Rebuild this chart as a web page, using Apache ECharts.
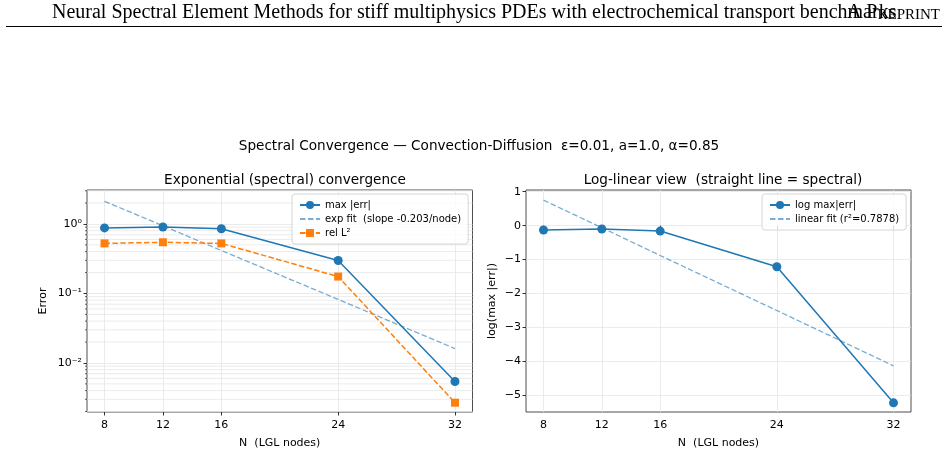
<!DOCTYPE html>
<html>
<head>
<meta charset="utf-8">
<script src="https://cdn.jsdelivr.net/npm/echarts@6/dist/echarts.min.js"></script>
<style>
  html, body { margin: 0; padding: 0; background: #fff; }
  #chart { width: 948px; height: 471px; }
</style>
</head>
<body>
<div id="chart"></div>
<script>
// N (LGL nodes)
var nodes = [8, 12, 16, 24, 32];
// left panel (log y)
var maxErr = [0.878, 0.905, 0.852, 0.298, 0.00541];
var relL2 = [0.525, 0.545, 0.525, 0.175, 0.00268];
var expFit = [2.117, 0.942, 0.415, 0.0821, 0.0161];
// right panel (natural log)
var logMaxErr = [-0.13, -0.10, -0.16, -1.21, -5.22];
var linFit = [0.75, -0.06, -0.88, -2.50, -4.13];
// ticks
var logTicks = [0.01, 0.1, 1];
var logMinor = [0.002, 0.003, 0.004, 0.005, 0.006, 0.007, 0.008, 0.009,
                0.02, 0.03, 0.04, 0.05, 0.06, 0.07, 0.08, 0.09,
                0.2, 0.3, 0.4, 0.5, 0.6, 0.7, 0.8, 0.9, 2, 3];
var linTicks = [-5, -4, -3, -2, -1, 0, 1];

(function() {
  var chart = echarts.init(document.getElementById('chart'), null, { renderer: 'canvas' });
  var font = 'DejaVu Sans';
  var blue = '#1f77b4';
  var orange = '#ff7f0e';
  var fitColor = 'rgba(31,119,180,0.6)';
  var gridColor = '#e6e6e6';
  var spine = '#222';

  function pairs(ys) {
    return nodes.map(function(n, i) { return [n, ys[i]]; });
  }
  var sup = { '0': '\u2070', '1': '\u00b9', '2': '\u00b2', '-': '\u207b' };
  function powLabel(v) {
    var e = Math.round(Math.log10(v));
    if (Math.abs(Math.log10(v) - e) > 1e-6) return '';
    return '10' + String(e).split('').map(function(c) { return sup[c]; }).join('');
  }
  function minus(v) { return String(v).replace('-', '\u2212'); }

  function xAxisFor(gi) {
    return {
      type: 'value', gridIndex: gi, min: 6.8, max: 33.2,
      name: 'N  (LGL nodes)', nameLocation: 'middle', nameGap: 26,
      nameTextStyle: { fontFamily: font, fontSize: 11, color: '#000' },
      axisLine: { show: false },
      axisTick: { show: true, length: 3.5, customValues: nodes, lineStyle: { color: '#000', width: 0.8 } },
      axisLabel: { customValues: nodes, fontFamily: font, fontSize: 11, color: '#000', margin: 8 },
      splitLine: { show: true, lineStyle: { color: gridColor, width: 0.8 } }
    };
  }
  var noSymbol = { opacity: 0 };

  chart.setOption({
    animation: false,
    backgroundColor: '#fff',
    title: [
      { text: 'Spectral Convergence \u2014 Convection-Diffusion  \u03b5=0.01, a=1.0, \u03b1=0.85',
        left: 474, top: 134, textAlign: 'center',
        textStyle: { fontFamily: font, fontSize: 13.6, fontWeight: 'normal', color: '#000' } },
      { text: 'Exponential (spectral) convergence', left: 280, top: 168, textAlign: 'center',
        textStyle: { fontFamily: font, fontSize: 13.6, fontWeight: 'normal', color: '#000' } },
      { text: 'Log-linear view  (straight line = spectral)', left: 718, top: 168, textAlign: 'center',
        textStyle: { fontFamily: font, fontSize: 13.6, fontWeight: 'normal', color: '#000' } }
    ],
    graphic: [
      { type: 'text', left: 52, top: 3,
        style: { text: 'Neural Spectral Element Methods for stiff multiphysics PDEs with electrochemical transport benchmarks',
          fontFamily: 'Liberation Serif', fontSize: 20, fill: '#000' } },
      { type: 'text', right: 8, top: 3,
        style: { text: '{a|A P}{b|REPRINT}',
          rich: { a: { fontFamily: 'Liberation Serif', fontSize: 20, fill: '#000', verticalAlign: 'bottom' },
                  b: { fontFamily: 'Liberation Serif', fontSize: 15, fill: '#000', verticalAlign: 'bottom' } } } },
      { type: 'line', shape: { x1: 6, y1: 26.5, x2: 942, y2: 26.5 }, style: { stroke: '#000', lineWidth: 1 } }
    ],
    grid: [
      { left: 87, top: 190, width: 385.5, height: 222, show: true, borderColor: spine, borderWidth: 0.8, containLabel: false },
      { left: 526, top: 190, width: 385, height: 222, show: true, borderColor: spine, borderWidth: 0.8, containLabel: false }
    ],
    xAxis: [xAxisFor(0), xAxisFor(1)],
    yAxis: [
      { type: 'log', logBase: 10, gridIndex: 0, min: 0.00197, max: 3.08,
        name: 'Error', nameLocation: 'middle', nameGap: 38,
        nameTextStyle: { fontFamily: font, fontSize: 11, color: '#000' },
        axisLine: { show: false },
        axisTick: { show: true, length: 3.5, customValues: logTicks, lineStyle: { color: '#000', width: 0.8 } },
        axisLabel: { customValues: logTicks, formatter: powLabel, fontFamily: font, fontSize: 11, color: '#000', margin: 5 },
        splitLine: { show: true, lineStyle: { color: gridColor, width: 0.8 } } },
      { type: 'value', gridIndex: 1, min: -5.49, max: 1.05,
        name: 'log(max |err|)', nameLocation: 'middle', nameGap: 28,
        nameTextStyle: { fontFamily: font, fontSize: 11, color: '#000' },
        axisLine: { show: false },
        axisTick: { show: true, length: 3.5, customValues: linTicks, lineStyle: { color: '#000', width: 0.8 } },
        axisLabel: { customValues: linTicks, formatter: minus, fontFamily: font, fontSize: 11, color: '#000', margin: 5 },
        splitLine: { show: true, lineStyle: { color: gridColor, width: 0.8 } } }
    ],
    legend: [
      { data: ['max |err|', { name: 'exp fit  (slope -0.203/node)', itemStyle: noSymbol }, 'rel L\u00b2'],
        orient: 'vertical', left: 292, top: 194, padding: [6, 7, 6, 7], itemGap: 4,
        itemWidth: 20, itemHeight: 10, backgroundColor: 'rgba(255,255,255,0.8)',
        borderColor: '#cccccc', borderWidth: 0.8, borderRadius: 3,
        textStyle: { fontFamily: font, fontSize: 10, color: '#000' } },
      { data: ['log max|err|', { name: 'linear fit (r\u00b2=0.7878)', itemStyle: noSymbol }],
        orient: 'vertical', left: 762, top: 194, padding: [6, 7, 6, 7], itemGap: 4,
        itemWidth: 20, itemHeight: 10, backgroundColor: 'rgba(255,255,255,0.8)',
        borderColor: '#cccccc', borderWidth: 0.8, borderRadius: 3,
        textStyle: { fontFamily: font, fontSize: 10, color: '#000' } }
    ],
    series: [
      { type: 'custom', xAxisIndex: 0, yAxisIndex: 0, silent: true, z: 1,
        data: logMinor.map(function(v) { return [8, v]; }),
        encode: { x: 0, y: 1 },
        renderItem: function(params, api) {
          var cs = params.coordSys;
          var y = api.coord([8, api.value(1)])[1];
          return { type: 'group', children: [
            { type: 'line', shape: { x1: cs.x, y1: y, x2: cs.x + cs.width, y2: y },
              style: { stroke: gridColor, lineWidth: 0.8 } },
            { type: 'line', shape: { x1: cs.x - 2, y1: y, x2: cs.x, y2: y },
              style: { stroke: '#000', lineWidth: 0.6 } }
          ] };
        } },
      { name: 'max |err|', type: 'line', xAxisIndex: 0, yAxisIndex: 0, data: pairs(maxErr),
        symbol: 'circle', symbolSize: 9, color: blue, z: 4,
        itemStyle: { color: blue }, lineStyle: { color: blue, width: 1.5 } },
      { name: 'exp fit  (slope -0.203/node)', type: 'line', xAxisIndex: 0, yAxisIndex: 0, data: pairs(expFit),
        symbol: 'none', color: fitColor, z: 3,
        lineStyle: { color: fitColor, width: 1.3, type: [5.5, 2.5] } },
      { name: 'rel L\u00b2', type: 'line', xAxisIndex: 0, yAxisIndex: 0, data: pairs(relL2),
        symbol: 'rect', symbolSize: 8, color: orange, z: 4,
        itemStyle: { color: orange }, lineStyle: { color: orange, width: 1.5, type: [5.5, 2.4] } },
      { name: 'log max|err|', type: 'line', xAxisIndex: 1, yAxisIndex: 1, data: pairs(logMaxErr),
        symbol: 'circle', symbolSize: 9, color: blue, z: 4,
        itemStyle: { color: blue }, lineStyle: { color: blue, width: 1.5 } },
      { name: 'linear fit (r\u00b2=0.7878)', type: 'line', xAxisIndex: 1, yAxisIndex: 1, data: pairs(linFit),
        symbol: 'none', color: fitColor, z: 3,
        lineStyle: { color: fitColor, width: 1.3, type: [5.5, 2.5] } }
    ]
  });

  window.addEventListener('resize', function() { chart.resize(); });
})();
</script>
</body>
</html>
